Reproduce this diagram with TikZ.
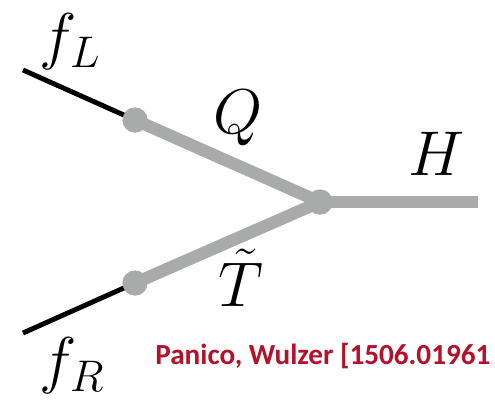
\RequirePackage{fix-cm}
\documentclass[tikz,border=0pt]{standalone}
\usepackage{fontspec}
\newfontfamily\creditfont{Carlito}
\definecolor{propgray}{RGB}{168,171,169}
\definecolor{creditred}{RGB}{178,18,42}

\begin{document}
\begin{tikzpicture}[x=0.02cm, y=-0.02cm]
  % vertex with a heavy partner doublet and singlet

  \useasboundingbox (0,0) rectangle (495,400);

  \tikzset{
    dot/.style={circle, fill=propgray, inner sep=0pt, minimum size=0.5cm},
    heavy/.style={line width=7pt, propgray},
    light/.style={line width=2.8pt, black},
    lbl/.style={font=\fontsize{36}{42}\selectfont, inner sep=0pt}
  }

  % Outer ends
  \coordinate (fL) at (23,70);
  \coordinate (fR) at (23,333);
  \coordinate (Hend) at (478,202);

  % Mixing points and vertex
  \node[dot] (mL) at (135,120) {};
  \node[dot] (mR) at (135,283) {};
  \node[dot] (V) at (320,202) {};

  % Elementary fermions
  \draw[light] (fL) -- (mL.center);
  \draw[light] (fR) -- (mR.center);

  % Composite states
  \draw[heavy] (mL.center) -- (V.center);
  \draw[heavy] (mR.center) -- (V.center);
  \draw[heavy] (V.center) -- (Hend);

  % Dots on top
  \node[dot] at (mL) {};
  \node[dot] at (mR) {};
  \node[dot] at (V) {};

  % Labels
  \node[lbl] (lfL) at (70,42) {$f_L$};
  \node[lbl] (lfR) at (72,366) {$f_R$};
  \node[lbl] (lQ) at (238,118) {$Q$};
  \node[lbl] (lT) at (241,278) {$\tilde{T}$};
  \node[lbl] (lH) at (437,154) {$H$};

  % Reference
  \node[anchor=west, inner sep=0pt, text=creditred, font=\creditfont\bfseries\fontsize{16.6}{19}\selectfont]
    (ref) at (155,356) {Panico, Wulzer [1506.01961};
\end{tikzpicture}
\end{document}
